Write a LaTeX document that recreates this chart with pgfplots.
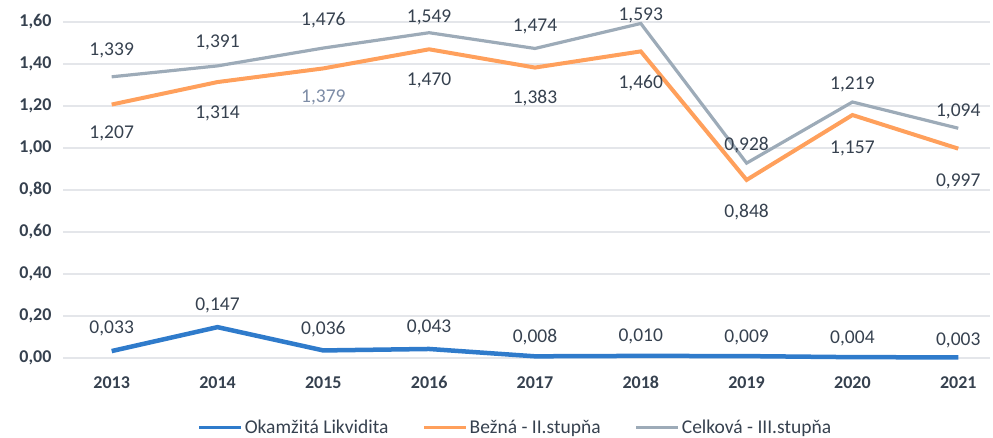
\documentclass[border=0pt]{standalone}
\usepackage{pgfplots}
\usepackage{pgfplotstable}
\pgfplotsset{compat=1.18}
\usepackage{fontspec}
\setmainfont{Carlito}
\definecolor{cBlue}{HTML}{2F7BCB}
\definecolor{cOrange}{HTML}{FFA05C}
\definecolor{cGray}{HTML}{9DABB8}
\definecolor{cLab}{HTML}{36414F}
\definecolor{cLabB}{HTML}{7D8CA6}
\definecolor{cGrid}{HTML}{E4E6EA}

\pgfplotstableread{
x y dy lab
0 0.033 23 0,033
1 0.147 22 0,147
2 0.036 21 0,036
3 0.043 22 0,043
4 0.008 19 0,008
5 0.010 19 0,010
6 0.009 19 0,009
7 0.004 19 0,004
8 0.003 17 0,003
}\okamzita

\pgfplotstableread{
x y dy lab
0 1.207 -29 1,207
1 1.314 -31 1,314
2 1.379 -29 {\textcolor{cLabB}{1,379}}
3 1.470 -31 1,470
4 1.383 -31 1,383
5 1.460 -32 1,460
6 0.848 -32 0,848
7 1.157 -33 1,157
8 0.997 -33 0,997
}\bezna

\pgfplotstableread{
x y dy lab
0 1.339 26 1,339
1 1.391 23 1,391
2 1.476 28 1,476
3 1.549 15 1,549
4 1.474 22 1,474
5 1.593 8 1,593
6 0.928 18 0,928
7 1.219 18 1,219
8 1.094 17 1,094
}\celkova

\begin{document}
\begin{tikzpicture}
\useasboundingbox (0,0) rectangle (993pt,437pt);
\begin{axis}[
  at={(63pt,79pt)}, anchor=south west,
  scale only axis, width=927pt, height=336pt,
  xmin=-0.46, xmax=8.3, ymin=0, ymax=1.6,
  xtick={0,1,2,3,4,5,6,7,8},
  xticklabels={2013,2014,2015,2016,2017,2018,2019,2020,2021},
  ytick={0,0.2,0.4,0.6,0.8,1.0,1.2,1.4,1.6},
  ymajorgrids, grid style={cGrid, line width=1.5pt},
  axis line style={draw=none}, major tick length=0pt,
  clip=false,
  /pgf/number format/assume math mode=true,
  xticklabel style={font=\bfseries\fontsize{18}{20}\selectfont, text=cLab, yshift=-15pt},
  yticklabel style={font=\bfseries\fontsize{18}{20}\selectfont, text=cLab, xshift=-8pt,
     /pgf/number format/fixed, /pgf/number format/fixed zerofill,
     /pgf/number format/precision=2, /pgf/number format/use comma},
  point meta=explicit symbolic,
  nodes near coords,
  every node near coord/.append style={anchor=center, font=\fontsize{19.5}{22}\selectfont, text=cLab},
  visualization depends on={\thisrow{dy} \as \dy},
  nodes near coords style={yshift=\dy pt},
  legend style={at={(0.488,-0.208)}, anchor=center, draw=none, fill=none,
     font=\fontsize{19.5}{22}\selectfont, text=cLab,
     /tikz/every even column/.append style={column sep=32pt}},
  legend columns=3,
  legend cell align=left,
  legend image code/.code={\draw[#1, line width=3.2pt] (0pt,0pt) -- (42pt,0pt);},
]
\addplot[cBlue, line width=4.5pt, mark=none] table[x=x,y=y,meta=lab] {\okamzita};
\addlegendentry{Okamžitá Likvidita}
\addplot[cOrange, line width=4pt, mark=none] table[x=x,y=y,meta=lab] {\bezna};
\addlegendentry{Bežná - II.stupňa}
\addplot[cGray, line width=3.2pt, mark=none] table[x=x,y=y,meta=lab] {\celkova};
\addlegendentry{Celková - III.stupňa}
\end{axis}
\end{tikzpicture}
\end{document}
